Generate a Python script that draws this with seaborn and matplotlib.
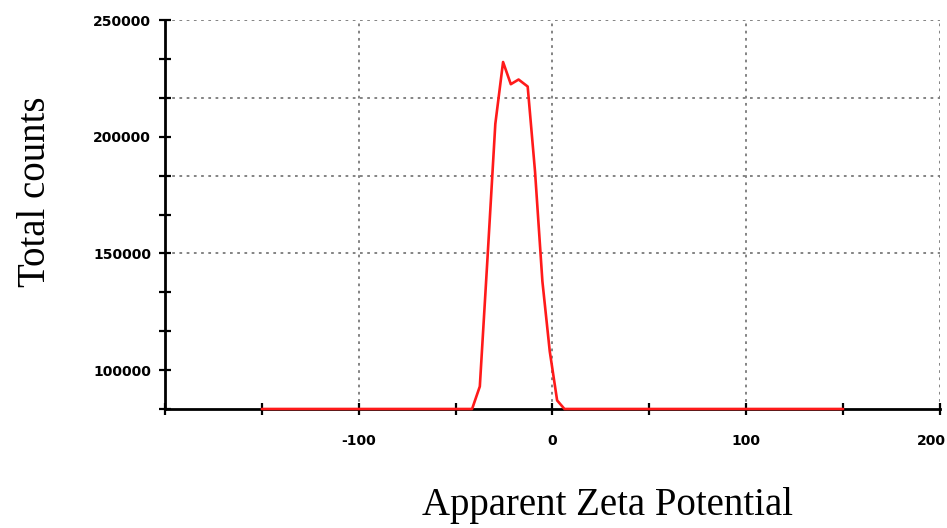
import numpy as np
import pandas as pd
import matplotlib
matplotlib.use("Agg")
import matplotlib.pyplot as plt
import matplotlib.transforms as mtransforms
import seaborn as sns

# Datos
baseline = 83333.33
zeta = [-150, -41.5, -37.5, -33.5, -29.5, -25.5, -21.5, -17.5, -12.8,
        -9.0, -5.2, -1.4, 2.4, 6.2, 150]
counts = [baseline, baseline, 93000, 148500, 205500, 232000, 222500, 224500, 221500,
          185000, 138000, 108000, 87000, baseline, baseline]

y_min, y_max = baseline, 250000
y_step = (y_max - y_min) / 10
y_labels = [100000, 150000, 200000, 250000]
x_labels = [-100, 0, 100, 200]

df = pd.DataFrame({"zeta": zeta, "counts": counts})

sns.set_style("white")
fig = plt.figure(figsize=(9.47, 5.28), dpi=100)
ax = fig.add_axes([0.1742, 0.2254, 0.8184, 0.7367])

# grilla punteada (antes de la curva)
grid_kw = dict(color="#7a7a7a", ls=(0, (1.5, 2.5)), lw=1.3, zorder=0)
for gy in np.arange(y_max, y_min + 1, -2 * y_step)[:-1]:
    ax.axhline(gy, **grid_kw)
for gx in x_labels:
    ax.axvline(gx, **grid_kw)

sns.lineplot(data=df, x="zeta", y="counts", ax=ax, color="#ff1a1a",
             lw=1.9, zorder=5, clip_on=False)

ax.set_xlim(-200, 200)
ax.set_ylim(y_min, y_max)
ax.set_xticks(x_labels)
ax.set_xticklabels([str(v) for v in x_labels])
ax.set_xticks(np.arange(-200, 201, 50), minor=True)
ax.set_yticks(y_labels)
ax.set_yticklabels([str(v) for v in y_labels])
ax.set_yticks(np.linspace(y_min, y_max, 11), minor=True)

for side in ["top", "right"]:
    ax.spines[side].set_visible(False)
for side in ["left", "bottom"]:
    ax.spines[side].set_color("black")
    ax.spines[side].set_linewidth(2)

ax.tick_params(which="both", direction="inout", length=8, width=1.6, color="black",
               bottom=True, left=True, labelcolor="black")
ax.tick_params(axis="x", pad=14)
ax.tick_params(axis="y", pad=6)
for lab in ax.get_xticklabels() + ax.get_yticklabels():
    lab.set_fontfamily("DejaVu Sans")
    lab.set_fontweight("bold")
    lab.set_fontsize(10)

# la última etiqueta del eje x queda pegada al borde
last = ax.get_xticklabels()[-1]
last.set_transform(last.get_transform() + mtransforms.ScaledTranslation(-9 / 100, 0, fig.dpi_scale_trans))

ax.set_xlabel("")
ax.set_ylabel("")
fig.text(0.642, 0.042, "Apparent Zeta Potential", family="Liberation Serif",
         fontsize=28, ha="center", va="center", color="black")
fig.text(0.037, 0.636, "Total counts", family="Liberation Serif",
         fontsize=28, ha="center", va="center", rotation=90, color="black")

fig.savefig("out.png", dpi=100)
